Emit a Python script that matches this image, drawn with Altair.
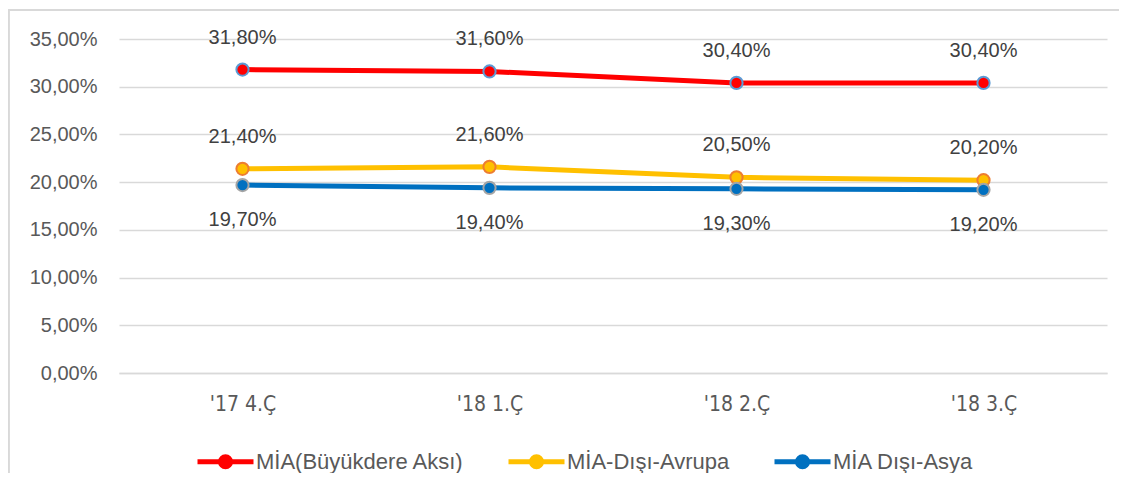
import altair as alt
import pandas as pd

categories = ["'17 4.Ç", "'18 1.Ç", "'18 2.Ç", "'18 3.Ç"]
series_names = ["MİA(Büyükdere Aksı)", "MİA-Dışı-Avrupa", "MİA Dışı-Asya"]
red_vals = [0.318, 0.316, 0.304, 0.304]
yellow_vals = [0.214, 0.216, 0.205, 0.202]
blue_vals = [0.197, 0.194, 0.193, 0.192]
label_pos = ["above", "above", "below"]

line_colors = ["#ff0000", "#ffc000", "#0070c0"]
marker_strokes = ["#5b9bd5", "#ed7d31", "#a5a5a5"]

rows = []
for name, vals, pos in zip(series_names, [red_vals, yellow_vals, blue_vals], label_pos):
    for c, v in zip(categories, vals):
        rows.append({"cat": c, "series": name, "value": v, "pos": pos,
                     "label": f"{v*100:.2f}%".replace(".", ",")})
df = pd.DataFrame(rows)

FONT = "Liberation Sans"
NARROW = "Liberation Sans Narrow, DejaVu Sans Condensed"

x = alt.X("cat:N", sort=categories, title=None,
          scale=alt.Scale(paddingInner=0, paddingOuter=0.5, padding=0.5),
          axis=alt.Axis(labelAngle=0, labelFont=NARROW, labelFontSize=21,
                        labelColor="#595959", labelPadding=20, ticks=False,
                        domainColor="#d9d9d9", domainWidth=1.5, grid=False))
y = alt.Y("value:Q", title=None,
          scale=alt.Scale(domain=[0, 0.35], nice=False),
          axis=alt.Axis(values=[0, 0.05, 0.1, 0.15, 0.2, 0.25, 0.3, 0.35],
                        labelExpr="replace(format(datum.value, '.2%'), '.', ',')",
                        labelFont=FONT, labelFontSize=20, labelColor="#595959",
                        labelPadding=22, ticks=False, domain=False,
                        grid=True, gridColor="#d9d9d9", gridWidth=1.5))

legend_path = ("M-1,0 L1,0 "
               "M-0.09,0 A0.09,0.09 0 1,0 0.09,0 A0.09,0.09 0 1,0 -0.09,0 "
               "M-0.18,0 A0.18,0.18 0 1,0 0.18,0 A0.18,0.18 0 1,0 -0.18,0")

color = alt.Color("series:N", sort=series_names,
                  scale=alt.Scale(domain=series_names, range=line_colors),
                  legend=alt.Legend(title=None, orient="none", direction="horizontal",
                                    legendX=76, legendY=392,
                                    symbolType=legend_path, symbolSize=3136,
                                    symbolStrokeWidth=5, labelOffset=0,
                                    columnPadding=34, labelLimit=400,
                                    labelFont=FONT, labelFontSize=22,
                                    labelColor="#595959"))

base = alt.Chart(df)

lines = base.mark_line(strokeWidth=5).encode(x=x, y=y, color=color,
                                             order=alt.Order("cat:N"))
points = base.mark_point(filled=True, size=150, strokeWidth=2, opacity=1).encode(
    x=x, y=y,
    fill=alt.Fill("series:N", scale=alt.Scale(domain=series_names, range=line_colors), legend=None),
    stroke=alt.Stroke("series:N", scale=alt.Scale(domain=series_names, range=marker_strokes), legend=None),
)
text_above = base.transform_filter(alt.datum.pos == "above").mark_text(
    dy=-32, font=FONT, fontSize=20, color="#404040").encode(x=x, y=y, text="label:N")
text_below = base.transform_filter(alt.datum.pos == "below").mark_text(
    dy=35, font=FONT, fontSize=20, color="#404040").encode(x=x, y=y, text="label:N")

frame_top = alt.Chart(df).mark_rule(color="#d9d9d9", strokeWidth=1.5).encode(
    x=alt.value(-110.5), x2=alt.value(1010), y=alt.value(-29))
frame_left = alt.Chart(df).mark_rule(color="#d9d9d9", strokeWidth=1.5).encode(
    x=alt.value(-110.5), y=alt.value(-29), y2=alt.value(460))

chart = alt.layer(frame_top, frame_left, lines, points, text_above, text_below).properties(
    width=988, height=334,
    autosize=alt.AutoSizeParams(type="none"),
    padding={"left": 111, "top": 31, "right": 12, "bottom": 100},
).configure_view(stroke=None).resolve_scale(fill="independent", stroke="independent")

chart.save("out.html", embed_options={"renderer": "svg", "actions": False})
